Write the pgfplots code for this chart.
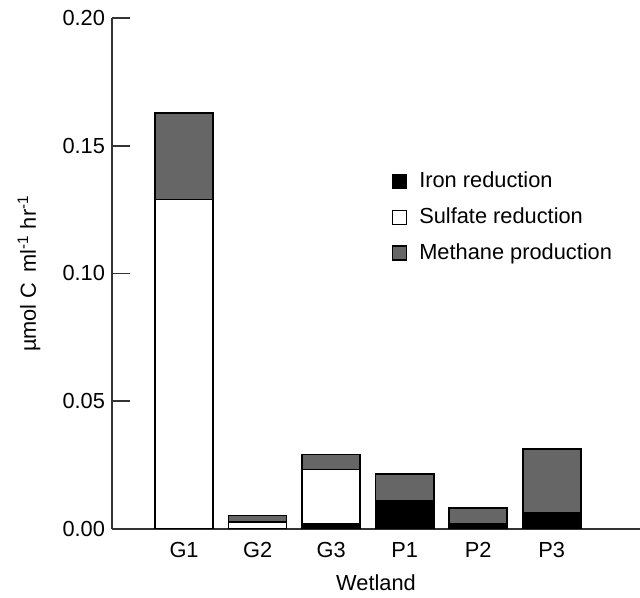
\documentclass[border=0pt]{standalone}
\usepackage{fontspec}
\setmainfont{Liberation Sans}
\usepackage{pgfplots}
\pgfplotsset{compat=1.18}
\usetikzlibrary{calc}

\definecolor{methane}{HTML}{666666}

\begin{document}
\begin{tikzpicture}[font=\fontsize{10.9}{12}\selectfont]
\begin{axis}[
  name=ax,
  scale only axis,
  width=264pt, height=255.5pt,
  ybar stacked,
  bar width=0.79,
  xmin=0.02, xmax=7.2,
  ymin=0, ymax=0.2,
  axis lines=left,
  axis line style={line width=0.8pt, black!80, -},
  xtick={1,2,3,4,5,6},
  xticklabels={G1,G2,G3,P1,P2,P3},
  xtick style={draw=none},
  xticklabel style={yshift=-3pt},
  ytick={0,0.05,0.1,0.15,0.2},
  ytick style={line width=0.8pt, black!80},
  tick align=inside,
  major tick length=9pt,
  yticklabel style={/pgf/number format/.cd, fixed, fixed zerofill, precision=2, /tikz/.cd},
  /pgf/number format/assume math mode=true,
  scaled y ticks=false,
  xlabel={Wetland},
  xlabel style={yshift=-1.5pt},
  ylabel={µmol C\, ml\textsuperscript{-1} hr\textsuperscript{-1}},
  ylabel style={at={(axis description cs:-0.122,0.5)}},
  legend style={draw=none, fill=none, at={(0.518,0.715)}, anchor=north west,
    row sep=4.5pt, font=\fontsize{10.9}{12}\selectfont},
  legend cell align=left,
  legend image code/.code={\draw[#1, line width=0.6pt] (0pt,-3.5pt) rectangle (7pt,3.5pt); \path (11pt,0pt);},
  every axis plot/.append style={draw=black, line width=0.8pt},
]
\addplot[fill=black] coordinates {(1,0) (2,0) (3,0.0021) (4,0.0111) (5,0.0020) (6,0.0063)};
\addplot[fill=white] coordinates {(1,0.129) (2,0.0028) (3,0.0212) (4,0) (5,0) (6,0)};
\addplot[fill=methane] coordinates {(1,0.0338) (2,0.0025) (3,0.0058) (4,0.0104) (5,0.0061) (6,0.0250)};
\legend{Iron reduction, Sulfate reduction, Methane production}
\end{axis}
\pgfresetboundingbox
\path[use as bounding box] ($(ax.south west)+(-56pt,-34.5pt)$) rectangle ($(ax.north east)+(0pt,9pt)$);
\end{tikzpicture}
\end{document}
